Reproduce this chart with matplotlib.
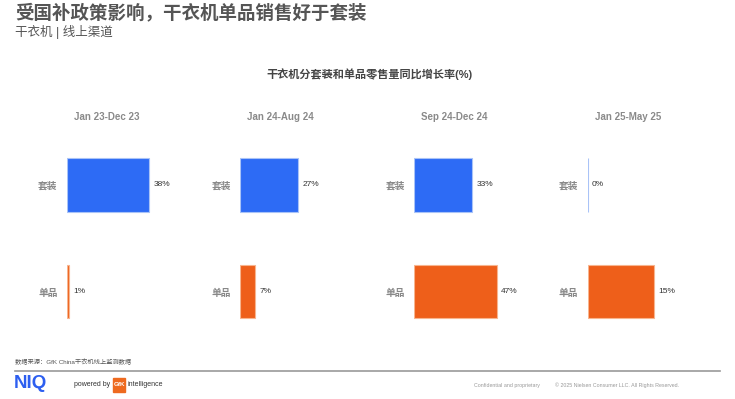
import matplotlib.pyplot as plt
from matplotlib.patches import Rectangle

plt.rcParams['font.family'] = ['Liberation Sans', 'Noto Sans CJK SC', 'DejaVu Sans']

periods = ['Jan 23-Dec 23', 'Jan 24-Aug 24', 'Sep 24-Dec 24', 'Jan 25-May 25']
categories = ['套装', '单品']
set_growth = [38, 27, 33, 0]
single_growth = [1, 7, 47, 15]

blue = '#2d6bf5'
orange = '#ee5f1a'
W, H = 735, 399

fig = plt.figure(figsize=(W / 100, H / 100), dpi=100)

# each panel has its own x scale (as in the source deck)
panel_left = [66.7, 240.3, 414.0, 587.5]
panel_xmax = [69.0, 69.8, 85.0, 33.9]

for i, period in enumerate(periods):
    ax = fig.add_axes([panel_left[i] / W, 54 / H, 150 / W, 213.4 / H])
    vals = [set_growth[i], single_growth[i]]
    bars = ax.barh([0, 1], vals, height=0.5, color=[blue, orange],
                   edgecolor=['#a9c3f7', '#f7b58f'], linewidth=0.8)
    ax.bar_label(bars, labels=[f'{v}%' for v in vals], padding=3,
                 fontsize=6, color='#333333')
    ax.set_xlim(0, panel_xmax[i])
    ax.set_ylim(1.5, -0.5)
    ax.set_yticks([0, 1])
    ax.set_yticklabels(categories, fontsize=7, color='#888888', fontweight='bold')
    ax.tick_params(axis='y', length=0, pad=6.5)
    ax.set_xticks([])
    for s in ax.spines.values():
        s.set_visible(False)
    fig.text((panel_left[i] + 40.5) / W, 1 - 117 / H, period, ha='center', va='center',
             fontsize=7, fontweight='bold', color='#8a8a8a')

fig.text(369 / W, 1 - 74 / H, '干衣机分套装和单品零售量同比增长率(%)', ha='center', va='center',
         fontsize=8, fontweight='bold', color='#444444')

fig.text(15 / W, 1 - 13 / H, '受国补政策影响，干衣机单品销售好于套装', ha='left', va='center',
         fontsize=13.3, fontweight='bold', color='#555555')
fig.text(15 / W, 1 - 32 / H, '干衣机 | 线上渠道', ha='left', va='center',
         fontsize=9, color='#555555')

# footer
fig.text(15 / W, 1 - 362 / H, '数据来源：GfK China干衣机线上监测数据', ha='left', va='center',
         fontsize=4.5, color='#555555')
fig.add_artist(plt.Line2D([15 / W, 720 / W], [1 - 371 / H, 1 - 371 / H],
                          color='#999999', linewidth=1.2))
fig.text(14 / W, 1 - 384 / H, 'NIQ', ha='left', va='center', fontsize=13.5,
         fontweight='bold', color='#2d5ff0')
fig.text(74 / W, 1 - 385 / H, 'powered by', ha='left', va='center', fontsize=5, color='#333333')
fig.add_artist(Rectangle((113 / W, 1 - 392 / H), 12 / W, 14 / H, color='#ee6a1f',
                         transform=fig.transFigure))
fig.text(119 / W, 1 - 385 / H, 'GfK', ha='center', va='center', fontsize=4.5,
         color='white', fontweight='bold')
fig.text(128 / W, 1 - 385 / H, 'intelligence', ha='left', va='center', fontsize=5, color='#333333')
fig.text(474 / W, 1 - 385 / H, 'Confidential and proprietary', ha='left', va='center',
         fontsize=3.8, color='#999999')
fig.text(555 / W, 1 - 385 / H, '© 2025 Nielsen Consumer LLC. All Rights Reserved.', ha='left',
         va='center', fontsize=3.8, color='#999999')

fig.savefig('out.png', dpi=100)
